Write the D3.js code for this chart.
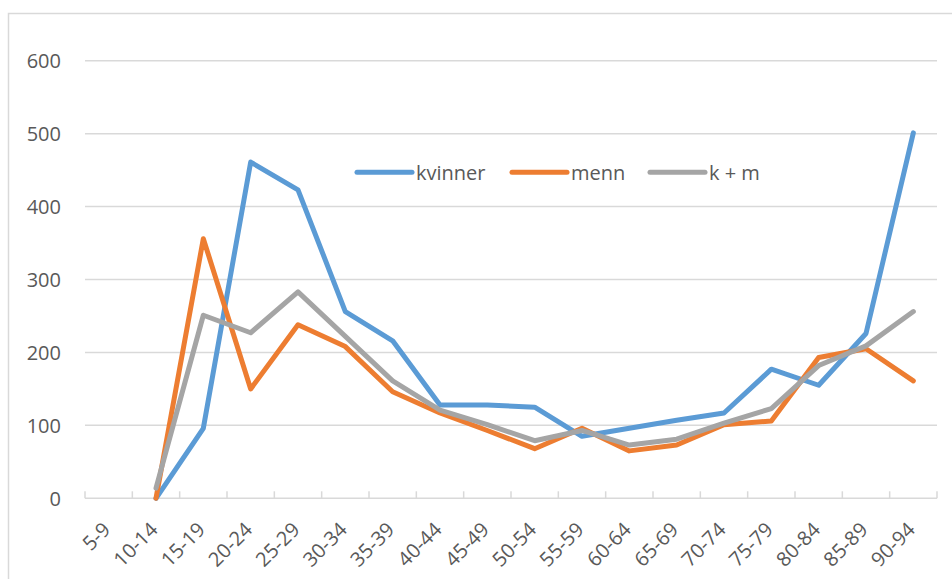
<!DOCTYPE html>
<html>
<head>
<meta charset="utf-8">
<script src="https://cdn.jsdelivr.net/npm/d3@7"></script>
<style>
  body { margin: 0; background: #fff; }
  text { font-family: "Open Sans", sans-serif; fill: #595959; }
</style>
</head>
<body>
<svg id="chart"></svg>
<script>
// age groups
const categories = ["5-9", "10-14", "15-19", "20-24", "25-29", "30-34", "35-39", "40-44", "45-49",
  "50-54", "55-59", "60-64", "65-69", "70-74", "75-79", "80-84", "85-89", "90-94"];

const kvinner = [null, 0, 96, 461, 423, 256, 216, 128, 128, 125, 85, 96, 107, 117, 177, 155, 226, 501];
const menn = [null, 0, 356, 150, 238, 208, 146, 117, 93, 68, 96, 65, 73, 101, 106, 193, 205, 161];
const km = [null, 14, 251, 227, 283, 222, 161, 121, 101, 79, 93, 73, 81, 103, 123, 182, 209, 256];

const seriesNames = ["kvinner", "menn", "k + m"];
const seriesColors = ["#5b9bd5", "#ed7d31", "#a5a5a5"];
const yTicks = [0, 100, 200, 300, 400, 500, 600];

const width = 952, height = 579;
const svg = d3.select("#chart").attr("width", width).attr("height", height);

// chart frame (cut off at right and bottom like the original)
svg.append("rect")
    .attr("x", 8.5).attr("y", 13.5)
    .attr("width", 960).attr("height", 600)
    .attr("fill", "none")
    .attr("stroke", "#d9d9d9")
    .attr("stroke-width", 1.5);

const x = d3.scaleBand().domain(categories).range([85, 937]);
const y = d3.scaleLinear().domain([0, 600]).range([498.3, 60.7]);

// gridlines
svg.selectAll(".grid")
    .data(yTicks.slice(1))
    .enter()
    .append("line")
    .attr("x1", 85).attr("x2", 937)
    .attr("y1", d => y(d)).attr("y2", d => y(d))
    .attr("stroke", "#d9d9d9")
    .attr("stroke-width", 1.5);

// y labels
svg.selectAll(".ylab")
    .data(yTicks)
    .enter()
    .append("text")
    .attr("x", 61)
    .attr("y", d => y(d))
    .attr("dy", "0.36em")
    .attr("text-anchor", "end")
    .style("font-size", "20px")
    .text(d => d);

// x axis line + ticks
svg.append("line")
    .attr("x1", 85).attr("x2", 937)
    .attr("y1", y(0)).attr("y2", y(0))
    .attr("stroke", "#d9d9d9")
    .attr("stroke-width", 1.5);

const tickPos = categories.map(c => x(c)).concat([x.range()[1]]);
svg.selectAll(".xtick")
    .data(tickPos)
    .enter()
    .append("line")
    .attr("x1", d => d).attr("x2", d => d)
    .attr("y1", y(0) - 7).attr("y2", y(0))
    .attr("stroke", "#d9d9d9")
    .attr("stroke-width", 1.5);

// x labels, rotated
svg.selectAll(".xlab")
    .data(categories)
    .enter()
    .append("text")
    .attr("transform", d => `translate(${x(d) + x.bandwidth() / 2 + 3},531) rotate(-45)`)
    .attr("text-anchor", "end")
    .style("font-size", "20px")
    .text(d => d);

// lines
const line = d3.line()
    .defined(d => d != null)
    .x((d, i) => x(categories[i]) + x.bandwidth() / 2)
    .y(d => y(d));

[kvinner, menn, km].forEach((data, k) => {
    svg.append("path")
        .datum(data)
        .attr("d", line)
        .attr("fill", "none")
        .attr("stroke", seriesColors[k])
        .attr("stroke-width", 5)
        .attr("stroke-linejoin", "round")
        .attr("stroke-linecap", "round");
});

// legend
const legendX = [357, 512, 650];
const legend = svg.selectAll(".legend")
    .data(seriesNames)
    .enter()
    .append("g")
    .attr("transform", (d, i) => `translate(${legendX[i]},172.3)`);

legend.append("line")
    .attr("x1", 0).attr("x2", 55)
    .attr("stroke", (d, i) => seriesColors[i])
    .attr("stroke-width", 5)
    .attr("stroke-linecap", "round");

legend.append("text")
    .attr("x", 59)
    .attr("dy", "0.36em")
    .style("font-size", "20px")
    .text(d => d);
</script>
</body>
</html>
